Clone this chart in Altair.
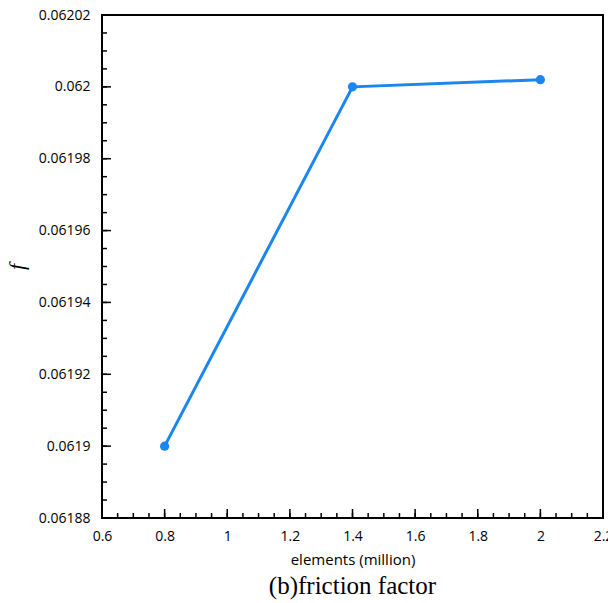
import altair as alt
import numpy as np
import pandas as pd

# mesh size (million elements) vs. friction factor
elements = [0.8, 1.4, 2.0]
friction = [0.06190, 0.06200, 0.062002]

x_major = [0.6, 0.8, 1.0, 1.2, 1.4, 1.6, 1.8, 2.0, 2.2]
y_major = [0.06188, 0.0619, 0.06192, 0.06194, 0.06196, 0.06198, 0.062, 0.06202]
x_minor = [round(v, 3) for v in np.arange(0.6, 2.2001, 0.05)]
y_minor = [round(v, 7) for v in np.arange(0.06188, 0.0620201, 0.000005)]

W, H = 501, 503
line_color = "#1a86f0"
label_font = "Open Sans"

xs = alt.Scale(domain=[0.6, 2.2], nice=False, zero=False)
ys = alt.Scale(domain=[0.06188, 0.06202], nice=False, zero=False)

df = pd.DataFrame({"elements": elements, "f": friction})

base = alt.Chart(df)
line = base.mark_line(color=line_color, strokeWidth=3).encode(
    x=alt.X("elements:Q", scale=xs,
            axis=alt.Axis(values=x_major, format="~g", ticks=False, grid=False,
                          domain=False, labelFont=label_font, labelFontSize=14,
                          labelColor="black", labelPadding=11, labelFlush=False,
                          title="elements (million)", titleFont=label_font,
                          titleFontSize=15, titleFontWeight="normal",
                          titleColor="black", titlePadding=9)),
    y=alt.Y("f:Q", scale=ys,
            axis=alt.Axis(values=y_major, format="~g", ticks=False, grid=False,
                          domain=False, labelFont=label_font, labelFontSize=14,
                          labelColor="black", labelPadding=12, labelFlush=False,
                          title="f", titleFont="Liberation Serif",
                          titleFontStyle="italic", titleFontSize=22,
                          titleFontWeight="normal", titleColor="black",
                          titlePadding=10)),
)
points = base.mark_circle(color=line_color, size=85, opacity=1).encode(
    x=alt.X("elements:Q", scale=xs), y=alt.Y("f:Q", scale=ys)
)

def ticks_x(vals, length):
    return alt.Chart(pd.DataFrame({"v": vals})).mark_rule(
        color="black", strokeWidth=1.5
    ).encode(x=alt.X("v:Q", scale=xs), y=alt.value(H), y2=alt.value(H - length))

def ticks_y(vals, length):
    return alt.Chart(pd.DataFrame({"v": vals})).mark_rule(
        color="black", strokeWidth=1.5
    ).encode(y=alt.Y("v:Q", scale=ys), x=alt.value(0), x2=alt.value(length))

chart = alt.layer(
    ticks_x(x_minor, 5), ticks_x(x_major, 9),
    ticks_y(y_minor, 5), ticks_y(y_major, 9),
    line, points,
).properties(
    width=W, height=H,
    title=alt.TitleParams("(b)friction factor", orient="bottom",
                          font="Liberation Serif", fontSize=25,
                          fontWeight="normal", color="black", offset=7),
    autosize=alt.AutoSizeParams(type="none"),
    padding={"left": 102, "top": 15, "right": 5, "bottom": 85},
).configure(background="white").configure_view(stroke="black", strokeWidth=2)

chart.save("out.html", embed_options={"renderer": "svg", "actions": False})
